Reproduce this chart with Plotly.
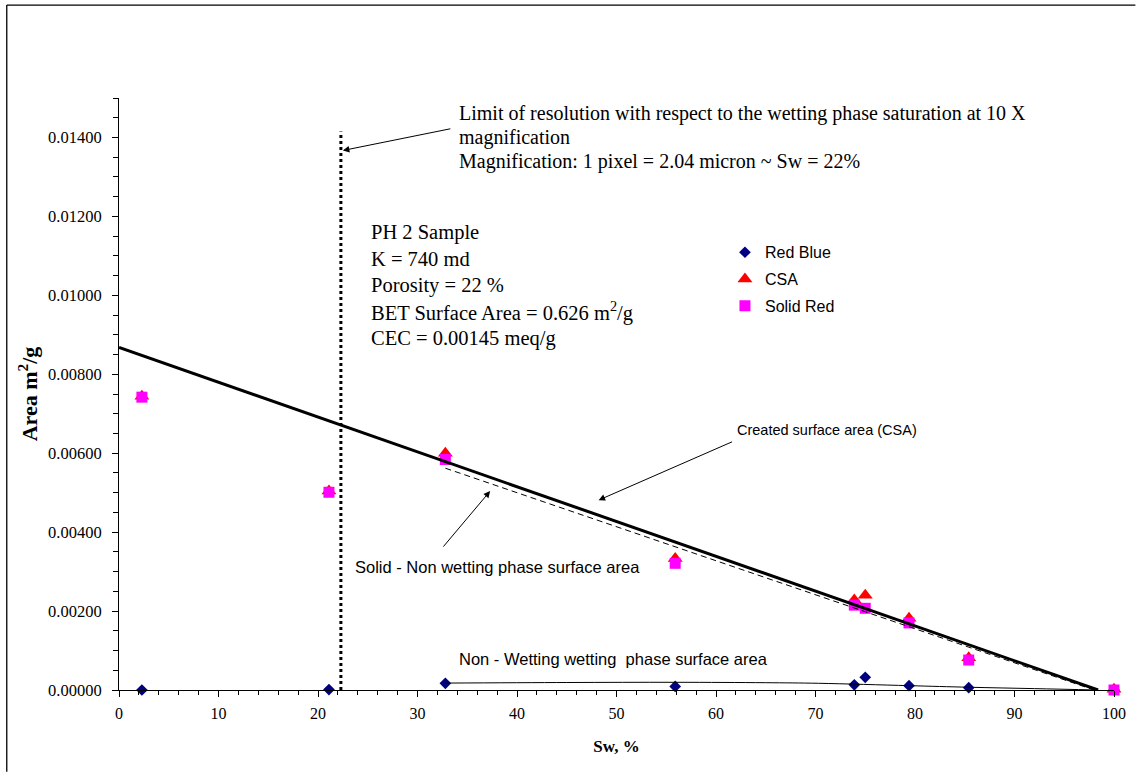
import plotly.graph_objects as go

# Water saturation (%) at each image analysed
sw = [2.3, 21.1, 32.8, 55.9, 73.9, 75.0, 79.4, 85.4, 100.0]

# Surface areas, m2/g
red_blue = [0.0, 0.00001, 0.00017, 0.00009, 0.00013, 0.00032, 0.00011, 0.00006, 0.0]
csa = [0.00744, 0.00504, 0.00600, 0.00333, 0.00228, 0.00240, 0.00182, 0.00082, 0.00002]
solid_red = [0.00742, 0.00501, 0.00584, 0.00321, 0.00215, 0.00207, 0.00170, 0.00076, 0.0]

# Trend lines
csa_trend_x = [0.0, 98.4]
csa_trend_y = [0.00868, 0.0]
solid_trend_x = [32.8, 98.0]
solid_trend_y = [0.00562, 0.0]
nonwet_x = [32.8, 45.0, 56.0, 65.0, 70.3, 79.4, 85.4, 92.0, 98.4]
nonwet_y = [0.000175, 0.00019, 0.000195, 0.000185, 0.00017, 0.00011, 0.00007, 0.000035, 0.0]

# Resolution limit (Sw = 22 %)
limit_x = [22.3, 22.3]
limit_y = [0.0, 0.01415]

SERIF = "Liberation Serif"
SANS = "Liberation Sans"

fig = go.Figure()

fig.add_trace(go.Scatter(x=sw, y=red_blue, mode="markers", name="Red Blue",
                         marker=dict(symbol="diamond", size=9, color="#000080"),
                         cliponaxis=False, legendgroup="a"))
fig.add_trace(go.Scatter(x=sw, y=csa, mode="markers", name="CSA",
                         marker=dict(symbol="triangle-up", size=13, color="#FF0000"),
                         cliponaxis=False, legendgroup="b"))
fig.add_trace(go.Scatter(x=sw, y=solid_red, mode="markers", name="Solid Red",
                         marker=dict(symbol="square", size=11, color="#FF00FF"),
                         cliponaxis=False, legendgroup="c"))

fig.add_trace(go.Scatter(x=csa_trend_x, y=csa_trend_y, mode="lines", showlegend=False,
                         line=dict(color="black", width=3), hoverinfo="skip"))
fig.add_trace(go.Scatter(x=solid_trend_x, y=solid_trend_y, mode="lines", showlegend=False,
                         line=dict(color="black", width=1, dash="6px,4px"), hoverinfo="skip"))
fig.add_trace(go.Scatter(x=nonwet_x, y=nonwet_y, mode="lines", showlegend=False,
                         line=dict(color="black", width=1, shape="spline"), hoverinfo="skip"))
fig.add_trace(go.Scatter(x=limit_x, y=limit_y, mode="lines", showlegend=False,
                         line=dict(color="black", width=3, dash="dot"), hoverinfo="skip",
                         cliponaxis=False))

ann = []
# resolution note
note_font = dict(family=SERIF, size=20, color="black")
for i, line in enumerate([
        "Limit of resolution with respect to the wetting phase saturation at 10 X",
        "magnification",
        "Magnification: 1 pixel = 2.04 micron ~ Sw = 22%"]):
    ann.append(dict(x=34.0, y=0.01460 - i * 0.00061, xref="x", yref="y", text=line,
                    showarrow=False, xanchor="left", yanchor="middle", font=note_font))
# sample description
desc_font = dict(family=SERIF, size=20.5, color="black")
for i, line in enumerate([
        "PH 2 Sample", "K = 740 md", "Porosity = 22 %",
        "BET Surface Area = 0.626 m<sup>2</sup>/g", "CEC = 0.00145 meq/g"]):
    ann.append(dict(x=25.1, y=0.01159 - i * 0.00067, xref="x", yref="y", text=line,
                    showarrow=False, xanchor="left", yanchor="middle", font=desc_font))

ann.append(dict(x=71.2, y=0.00658, text="Created surface area (CSA)", showarrow=False,
                xanchor="center", yanchor="middle",
                font=dict(family=SANS, size=14.5, color="black")))
sans = dict(family=SANS, size=16.5, color="black")
ann.append(dict(x=23.5, y=0.00311, text="Solid - Non wetting phase surface area", showarrow=False,
                xanchor="left", yanchor="middle", font=sans))
ann.append(dict(x=34.0, y=0.00079, text="Non - Wetting wetting  phase surface area", showarrow=False,
                xanchor="left", yanchor="middle", font=sans))

# arrows
arrow = dict(showarrow=True, arrowhead=2, arrowsize=1.3, arrowwidth=1, arrowcolor="black", text="")
ann.append(dict(x=22.5, y=0.01367, ax=109, ay=-22, **arrow))
ann.append(dict(x=48.2, y=0.00481, ax=135, ay=-59, **arrow))
ann.append(dict(x=37.3, y=0.00504, ax=-48, ay=57, **arrow))

# frame around the chart (top and left edges, running off the page)
frame = dict(color="black", width=1.3)
shapes = [
    dict(type="line", xref="paper", yref="paper", x0=-0.1128, x1=1.0215, y0=1.157, y1=1.157, line=frame),
    dict(type="line", xref="paper", yref="paper", x0=-0.1128, x1=-0.1128, y0=-0.138, y1=1.157, line=frame),
]

fig.update_layout(
    width=1138, height=772,
    margin=dict(l=119, r=22, t=97.5, b=82),
    paper_bgcolor="white", plot_bgcolor="white",
    font=dict(family=SERIF, size=16, color="black"),
    annotations=ann,
    shapes=shapes,
    legend=dict(x=0.609, y=0.768, xanchor="left", yanchor="top",
                font=dict(family=SANS, size=16, color="black"),
                bgcolor="rgba(0,0,0,0)", tracegroupgap=3, itemwidth=30),
)

fig.update_xaxes(
    range=[0, 100], tickmode="linear", tick0=0, dtick=10,
    showgrid=False, zeroline=False, showline=True, linecolor="black", linewidth=1,
    ticks="outside", ticklen=6, tickcolor="black", ticklabelstandoff=3,
    minor=dict(dtick=2, ticks="outside", ticklen=4, tickcolor="black"),
    tickfont=dict(family=SERIF, size=16),
    title=dict(text="<b>Sw, %</b>", font=dict(family=SERIF, size=17), standoff=18),
)
fig.update_yaxes(
    range=[0, 0.015], tickmode="array",
    tickvals=[0, 0.002, 0.004, 0.006, 0.008, 0.010, 0.012, 0.014],
    tickformat=".5f",
    showgrid=False, zeroline=False, showline=True, linecolor="black", linewidth=1,
    ticks="outside", ticklen=6, tickcolor="black", ticklabelstandoff=7,
    minor=dict(tickmode="linear", tick0=0, dtick=0.0005, ticks="outside", ticklen=5, tickcolor="black"),
    tickfont=dict(family=SERIF, size=16.5),
    title=dict(text="<b>Area m<sup>2</sup>/g</b>", font=dict(family=SERIF, size=22), standoff=4),
)

fig.write_html(
    "out.html",
    post_script="document.body.style.margin='0';document.body.style.overflow='hidden';",
)
